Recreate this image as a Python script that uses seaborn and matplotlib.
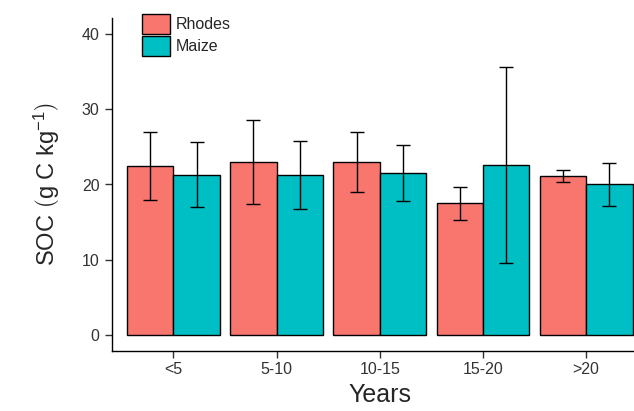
import pandas as pd
import seaborn as sns
import matplotlib.pyplot as plt

# values
years = ['<5', '5-10', '10-15', '15-20', '>20']
rhodes_soc = [22.4, 23.0, 23.0, 17.5, 21.1]
rhodes_err = [4.5, 5.6, 4.0, 2.2, 0.8]
maize_soc = [21.3, 21.3, 21.5, 22.6, 20.0]
maize_err = [4.3, 4.5, 3.7, 13.0, 2.85]

df = pd.DataFrame({
    'Years': years * 2,
    'SOC': rhodes_soc + maize_soc,
    'Crop': ['Rhodes'] * len(years) + ['Maize'] * len(years),
})

sns.set_style('white')
plt.rcParams['font.family'] = ['Liberation Sans', 'DejaVu Sans']
plt.rcParams['mathtext.fontset'] = 'custom'
plt.rcParams['mathtext.rm'] = 'Liberation Sans'
plt.rcParams['mathtext.it'] = 'Liberation Sans'

fig = plt.figure(figsize=(6.34, 4.11), dpi=100)
# axes runs a bit past the right edge of the figure, as in the original
ax = fig.add_axes([111.5 / 634, 60.5 / 411, 536.6 / 634, 332 / 411])

palette = {'Rhodes': '#F8766D', 'Maize': '#00BFC4'}
sns.barplot(data=df, x='Years', y='SOC', hue='Crop', order=years,
            hue_order=['Rhodes', 'Maize'], palette=palette, width=0.9,
            errorbar=None, edgecolor='black', linewidth=1.0, saturation=1,
            ax=ax)

# error bars at the bar centres
for container, errs in zip(ax.containers, [rhodes_err, maize_err]):
    xs = [b.get_x() + b.get_width() / 2 for b in container]
    ys = [b.get_height() for b in container]
    ax.errorbar(xs, ys, yerr=errs, fmt='none', ecolor='black',
                elinewidth=1.0, capsize=5, capthick=1.0)

ax.set_xlim(-0.6, 4.6)
ax.set_ylim(-2, 42)
ax.set_yticks([0, 10, 20, 30, 40])
sns.despine(ax=ax)
for s in ['left', 'bottom']:
    ax.spines[s].set_color('black')
    ax.spines[s].set_linewidth(1.0)
ax.tick_params(axis='both', direction='out', length=5, width=1.0,
               color='#333333', labelcolor='#333333', labelsize=11.5,
               left=True, bottom=True)

ax.set_xlabel('Years', fontsize=18, labelpad=4)
ax.set_ylabel(r'SOC $\left(\mathrm{g\ C\ kg^{-1}}\right)$', fontsize=17,
              labelpad=14)

handles, labels = ax.get_legend_handles_labels()
ax.legend(handles, labels, loc='upper left', bbox_to_anchor=(136 / 634, 1 - 8 / 411),
          bbox_transform=fig.transFigure, frameon=False, fontsize=11.5,
          handlelength=1.75, handleheight=1.5, labelspacing=0.15,
          handletextpad=0.35, borderaxespad=0)

fig.savefig('out.png', dpi=100)
